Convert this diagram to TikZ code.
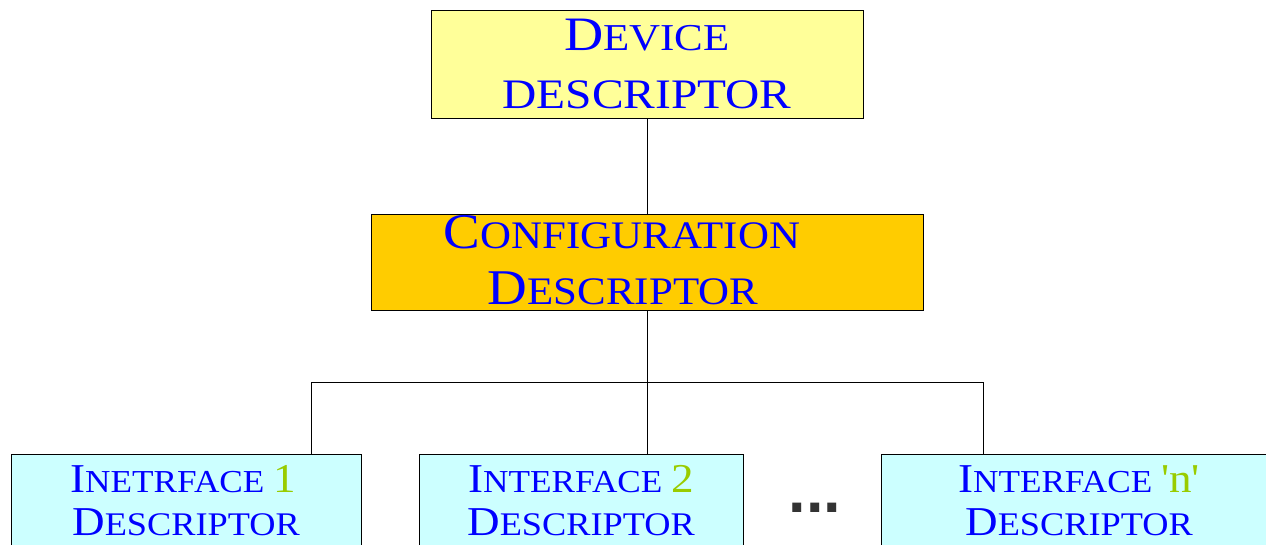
\documentclass[tikz,border=0pt]{standalone}
\usepackage{fontspec}
\newfontfamily\cpfont[FakeStretch=1.1]{Liberation Serif}
\newfontfamily\cpwide[FakeStretch=1.13]{Liberation Serif}
\newfontfamily\dotfont{Liberation Sans Bold}
\definecolor{txtblue}{HTML}{0000FF}
\definecolor{txtgreen}{HTML}{99CC00}
\definecolor{devfill}{HTML}{FFFF99}
\definecolor{cfgfill}{HTML}{FFCC00}
\definecolor{iffill}{HTML}{CCFFFF}
\definecolor{dotgray}{HTML}{333333}
\newcommand{\fs}[2]{{\fontsize{#1}{#1}\selectfont #2}}
\tikzset{
  box/.style={draw=black, line width=0.8pt, rectangle, inner sep=0pt},
  lbl/.style={anchor=base, inner sep=0pt, text=txtblue, font=\cpfont},
  conn/.style={draw=black, line width=0.8pt}
}
\begin{document}
\begin{tikzpicture}[x=1pt,y=-1pt]
\useasboundingbox (0,0) rectangle (1266,544);
\clip (0,0) rectangle (1266,544);
% boxes
\node[box, fill=devfill, minimum width=432, minimum height=108] (dev) at (647,64) {};
\node[box, fill=cfgfill, minimum width=552, minimum height=96] (cfg) at (647,262) {};
\node[box, fill=iffill, minimum width=350, minimum height=116] (if1) at (186,512) {};
\node[box, fill=iffill, minimum width=324, minimum height=116] (if2) at (581,512) {};
\node[box, fill=iffill, minimum width=409, minimum height=116] (ifn) at (1085.5,512) {};
% texts
\node[lbl, font=\cpwide] (devA) at (647,50) {\fs{48}{D}\fs{38}{EVICE}};
\node[lbl, font=\cpwide] (devB) at (647,108) {\fs{42}{DESCRIPTOR}};
\node[lbl] (cfgA) at (622,248) {\fs{50}{C}\fs{39}{ONFIGURATION}};
\node[lbl] (cfgB) at (623,304) {\fs{50}{D}\fs{39}{ESCRIPTOR}};
\node[lbl] (if1A) at (183,492) {\fs{41}{I}\fs{32}{NETRFACE\ }\textcolor{txtgreen}{\fs{41}{1}}};
\node[lbl] (if1B) at (186,535) {\fs{41}{D}\fs{33}{ESCRIPTOR}};
\node[lbl] (if2A) at (581,492) {\fs{41}{I}\fs{32}{NTERFACE\ }\textcolor{txtgreen}{\fs{41}{2}}};
\node[lbl] (if2B) at (581,535) {\fs{41}{D}\fs{33}{ESCRIPTOR}};
\node[lbl] (ifnA) at (1079,492) {\fs{41}{I}\fs{32}{NTERFACE\ }\textcolor{txtgreen}{\fs{41}{'n'}}};
\node[lbl] (ifnB) at (1079,535) {\fs{41}{D}\fs{33}{ESCRIPTOR}};
\node[anchor=base, inner sep=0pt, text=dotgray, font=\dotfont] (dots) at (815,512) {\fontsize{63}{63}\selectfont ...};
% connectors
\coordinate (bus) at (647,382);
\coordinate (b1) at (311,382);
\coordinate (bn) at (983,382);
\draw[conn] (dev.south) -- (cfg.north);
\draw[conn] (cfg.south) -- (bus);
\draw[conn] (b1) -- (bn);
\draw[conn] (b1) -- (b1 |- if1.north);
\draw[conn] (bus) -- (bus |- if2.north);
\draw[conn] (bn) -- (bn |- ifn.north);
\end{tikzpicture}
\end{document}
